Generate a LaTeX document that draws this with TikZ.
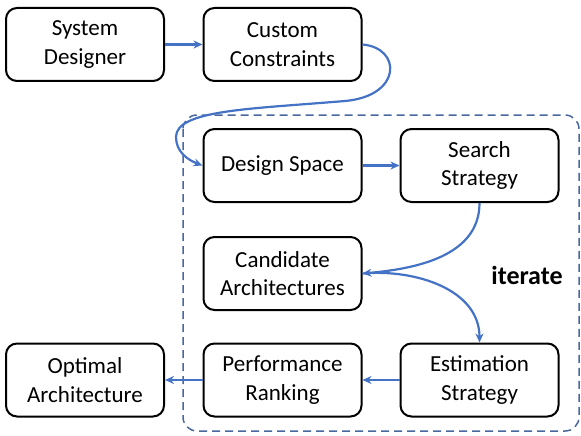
\documentclass[tikz,border=0pt]{standalone}
\usepackage{fontspec}
\setmainfont{Carlito}
\usepackage{xcolor}
\definecolor{ArrowBlue}{RGB}{68,114,196}
\definecolor{FrameBlue}{RGB}{74,104,160}
\usetikzlibrary{arrows.meta}

\begin{document}
\begin{tikzpicture}[x=1pt,y=-1pt,
    block/.style={draw,line width=2pt,rounded corners=11pt,minimum width=158pt,minimum height=73pt,align=center,font=\fontsize{23}{28.5}\selectfont},
    flow/.style={ArrowBlue,line width=2.2pt,-{Stealth[length=9pt,width=8pt]}}]
       \useasboundingbox (0,0) rectangle (581,436);
       \draw[FrameBlue,line width=1.5pt,dash pattern=on 8pt off 5pt,rounded corners=14pt] (183,115) rectangle (579,431);
       \node[block] (sd) at (85,44.5) {System\\Designer};
       \node[block] (cc) at (282.5,44.5) {Custom\\Constraints};
       \node[block] (ds) at (282.5,165.5) {Design Space};
       \node[block] (ss) at (479.5,165.5) {Search\\Strategy};
       \node[block] (ca) at (282.5,273.5) {Candidate\\Architectures};
       \node[block] (pr) at (282.5,380) {Performance\\Ranking};
       \node[block] (es) at (479.5,380) {Estimation\\Strategy};
       \node[block] (oa) at (85,380) {Optimal\\Architecture};
       \node[font=\fontsize{26}{30}\selectfont\bfseries] (it) at (527,275) {iterate};
       \coordinate (b1) at (345,101);
       \coordinate (b2) at (176,137);
       \draw[flow] (sd) -- (cc);
       \draw[flow] (cc.east) .. controls (402,48) and (402,96) .. (b1) .. controls (250,109) and (176,110) .. (b2) .. controls (176,152) and (188,160) .. (ds.west);
       \draw[flow] (ds) -- (ss);
       \draw[flow] (ss.south) to[out=-90,in=5] (ca.east);
       \draw[flow] (ca.east) to[out=5,in=90] (es.north);
       \draw[flow] (es) -- (pr);
       \draw[flow] (pr) -- (oa);
     \end{tikzpicture}
\end{document}
